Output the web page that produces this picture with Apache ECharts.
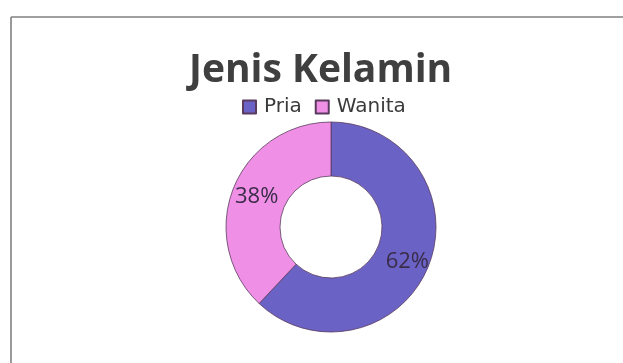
<!DOCTYPE html>
<html>
<head>
<meta charset="utf-8">
<script src="https://cdn.jsdelivr.net/npm/echarts@6/dist/echarts.min.js"></script>
<style>
  html, body { margin: 0; padding: 0; background: #ffffff; }
  #chart { width: 623px; height: 363px; }
</style>
</head>
<body>
<div id="chart"></div>
<script>
// Gender breakdown of respondents
const categories = ['Pria', 'Wanita'];
const shares = [62, 38];
const sliceColors = ['#6a62c4', '#ef8fe6'];

const chart = echarts.init(document.getElementById('chart'), null, { renderer: 'canvas' });

// Small nudges for the in-ring percentage labels
const labelOffsets = [[1, 5], [1, 0]];

chart.setOption({
  backgroundColor: '#ffffff',
  animation: false,
  title: {
    text: 'Jenis Kelamin',
    left: 184,
    top: 46,
    textStyle: {
      fontFamily: 'Open Sans',
      fontWeight: 'bold',
      fontSize: 39,
      color: '#3f3f3f'
    }
  },
  legend: {
    data: categories,
    left: 237,
    top: 92,
    itemWidth: 13,
    itemHeight: 13,
    itemGap: 13,
    icon: 'rect',
    textStyle: {
      fontFamily: 'DejaVu Sans',
      fontSize: 20,
      color: '#3a3a3a',
      padding: [0, 0, 0, 3]
    }
  },
  // Frame lines along the top and left edge of the chart area
  graphic: [
    { type: 'line', shape: { x1: 11, y1: 17, x2: 623, y2: 17 }, style: { stroke: '#808080', lineWidth: 1.6 } },
    { type: 'line', shape: { x1: 11, y1: 17, x2: 11, y2: 363 }, style: { stroke: '#808080', lineWidth: 1.6 } }
  ],
  series: [{
    type: 'pie',
    center: [331, 227],
    radius: [51, 105],
    startAngle: 90,
    clockwise: true,
    avoidLabelOverlap: false,
    itemStyle: {
      borderColor: '#5a3b5e',
      borderWidth: 0.8
    },
    label: {
      show: true,
      position: 'inside',
      formatter: '{c}%',
      fontFamily: 'Open Sans',
      fontSize: 22,
      color: '#3a2c48'
    },
    labelLine: { show: false },
    data: categories.map((name, i) => ({
      name: name,
      value: shares[i],
      itemStyle: { color: sliceColors[i] },
      label: { offset: labelOffsets[i] }
    }))
  }]
});
</script>
</body>
</html>
